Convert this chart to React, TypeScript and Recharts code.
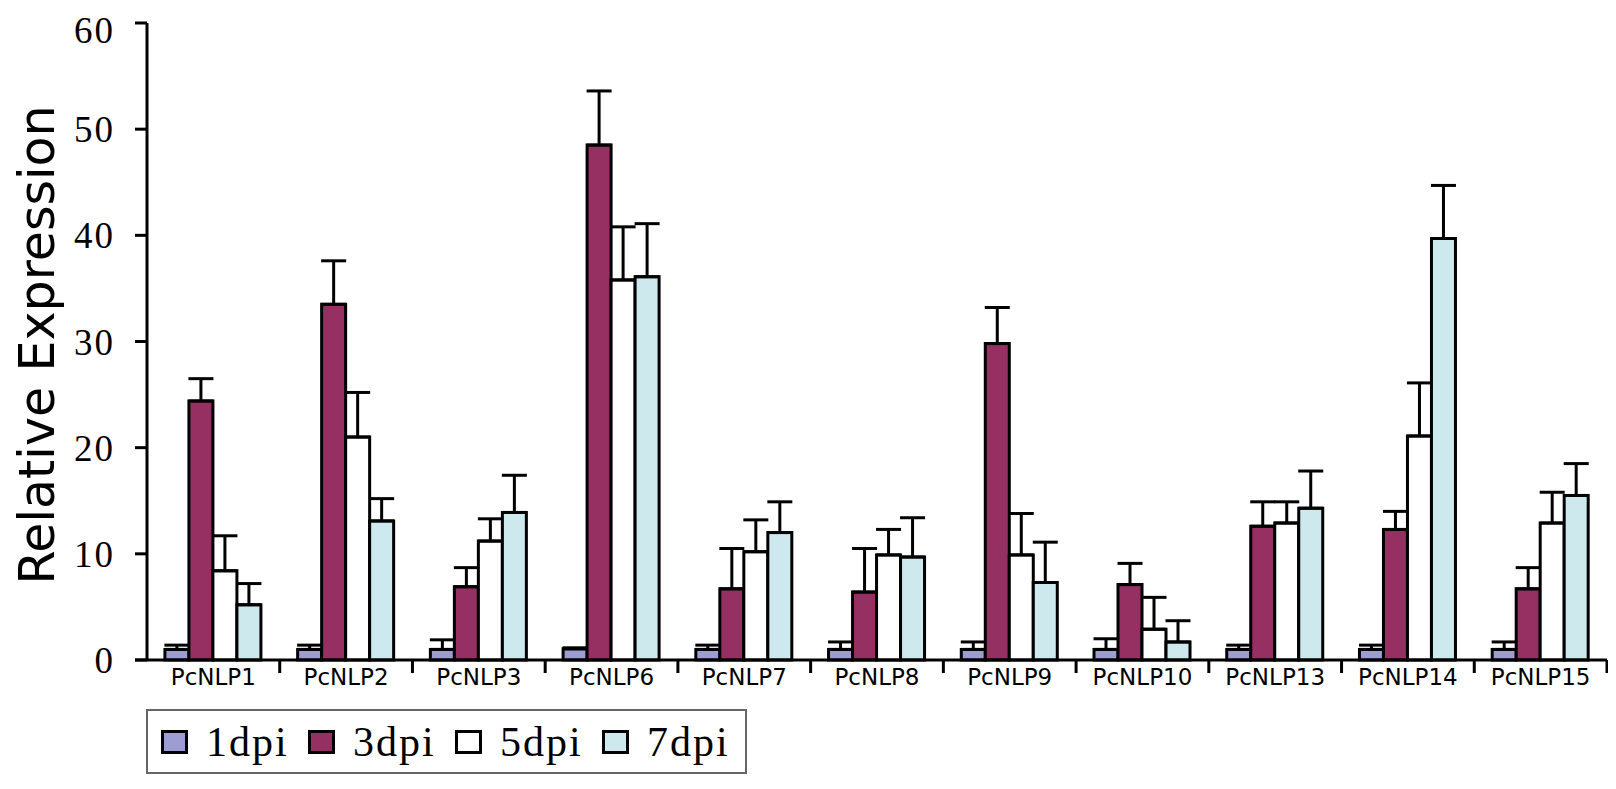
import React from 'react';
import { BarChart, Bar, XAxis, YAxis, ErrorBar } from 'recharts';

const genes = ['PcNLP1', 'PcNLP2', 'PcNLP3', 'PcNLP6', 'PcNLP7', 'PcNLP8', 'PcNLP9', 'PcNLP10', 'PcNLP13', 'PcNLP14', 'PcNLP15'];

const means1 = [1, 1, 1, 1.05, 1, 1, 1, 1, 1, 1, 1];
const sd1 = [0.4, 0.4, 0.9, 0.1, 0.4, 0.7, 0.7, 1.0, 0.4, 0.4, 0.7];
const means3 = [24.4, 33.5, 6.9, 48.5, 6.7, 6.4, 29.8, 7.1, 12.6, 12.3, 6.7];
const sd3 = [2.1, 4.1, 1.8, 5.1, 3.8, 4.1, 3.4, 2.0, 2.3, 1.7, 2.0];
const means5 = [8.4, 21.0, 11.2, 35.8, 10.2, 9.9, 9.9, 2.9, 12.9, 21.1, 12.9];
const sd5 = [3.3, 4.2, 2.1, 5.0, 3.0, 2.4, 3.9, 3.0, 2.0, 5.0, 2.9];
const means7 = [5.2, 13.1, 13.9, 36.1, 12.0, 9.7, 7.3, 1.7, 14.3, 39.7, 15.5];
const sd7 = [2.0, 2.1, 3.5, 5.0, 2.9, 3.7, 3.8, 2.0, 3.5, 5.0, 3.0];

const yTicks = [0, 10, 20, 30, 40, 50, 60];

const series = [
  { key: 'd1', err: 'e1', name: '1dpi', color: '#9d9dd3' },
  { key: 'd3', err: 'e3', name: '3dpi', color: '#973062' },
  { key: 'd5', err: 'e5', name: '5dpi', color: '#ffffff' },
  { key: 'd7', err: 'e7', name: '7dpi', color: '#cde9ed' },
];

const data = genes.map((g, i) => ({
  name: g,
  d1: means1[i], e1: [0, sd1[i]],
  d3: means3[i], e3: [0, sd3[i]],
  d5: means5[i], e5: [0, sd5[i]],
  d7: means7[i], e7: [0, sd7[i]],
}));

const W = 1608;
const H = 780;
const margin = { top: 15, right: 9, bottom: 68, left: 0 };
const yAxisWidth = 139;
const band = (W - margin.left - margin.right - yAxisWidth) / genes.length;

// x tick: label plus the small marks at group boundaries
const GeneTick = (props: any) => {
  const { x, y, payload, index } = props;
  const left = x - band / 2;
  const right = x + band / 2;
  return (
    <g>
      {index === 0 && <line x1={left - 12} y1={y} x2={left} y2={y} stroke="#000" strokeWidth={3} />}
      {index > 0 && <line x1={left} y1={y} x2={left} y2={y + 13} stroke="#000" strokeWidth={3} />}
      {index === genes.length - 1 && <line x1={right} y1={y} x2={right} y2={y + 13} stroke="#000" strokeWidth={3} />}
      <text x={x} y={y + 25} textAnchor="middle" fontFamily="DejaVu Sans" fontSize={23} fill="#000">
        {payload.value}
      </text>
    </g>
  );
};

const YTitle = () => (
  <text x={46} y={337} transform="rotate(-90 46 337)" textAnchor="middle" fontFamily="DejaVu Sans" fontSize={49} fill="#000">
    Relative Expression
  </text>
);

const App = () => (
  <div style={{ position: 'relative', width: W, height: H }}>
    <BarChart width={W} height={H} data={data} margin={margin} barCategoryGap="13.5%" barGap={0}>
      <XAxis
        dataKey="name"
        height={60}
        axisLine={{ stroke: '#000', strokeWidth: 3 }}
        tickLine={false}
        tickSize={0}
        tickMargin={0}
        tick={<GeneTick />}
        interval={0}
      />
      <YAxis
        width={yAxisWidth}
        domain={[0, 60]}
        ticks={yTicks}
        axisLine={{ stroke: '#000', strokeWidth: 3 }}
        tickLine={{ stroke: '#000', strokeWidth: 3 }}
        tickSize={12}
        tickMargin={20}
        tick={{ fontFamily: 'Liberation Serif', fontSize: 37, fill: '#000', letterSpacing: 2 }}
        label={{ content: () => <YTitle /> }}
      />
      {series.map((s) => (
        <Bar key={s.key} dataKey={s.key} name={s.name} fill={s.color} stroke="#000" strokeWidth={3} isAnimationActive={false}>
          <ErrorBar dataKey={s.err} direction="y" width={12.5} stroke="#000" strokeWidth={3} isAnimationActive={false} />
        </Bar>
      ))}
    </BarChart>
    <div
      style={{
        position: 'absolute',
        left: 138,
        top: 701,
        width: 584,
        height: 61,
        border: '2px solid #666',
        display: 'flex',
        alignItems: 'center',
        paddingLeft: 13,
        boxSizing: 'content-box',
      }}
    >
      {series.map((s) => (
        <div key={s.key} style={{ display: 'flex', alignItems: 'center', width: 147, flexShrink: 0 }}>
          <div style={{ width: 21, height: 18, background: s.color, border: '3px solid #000', marginRight: 18 }} />
          <span style={{ fontFamily: 'Liberation Serif', fontSize: 42, lineHeight: '42px', letterSpacing: 2, color: '#000' }}>{s.name}</span>
        </div>
      ))}
    </div>
  </div>
);

export default App;
